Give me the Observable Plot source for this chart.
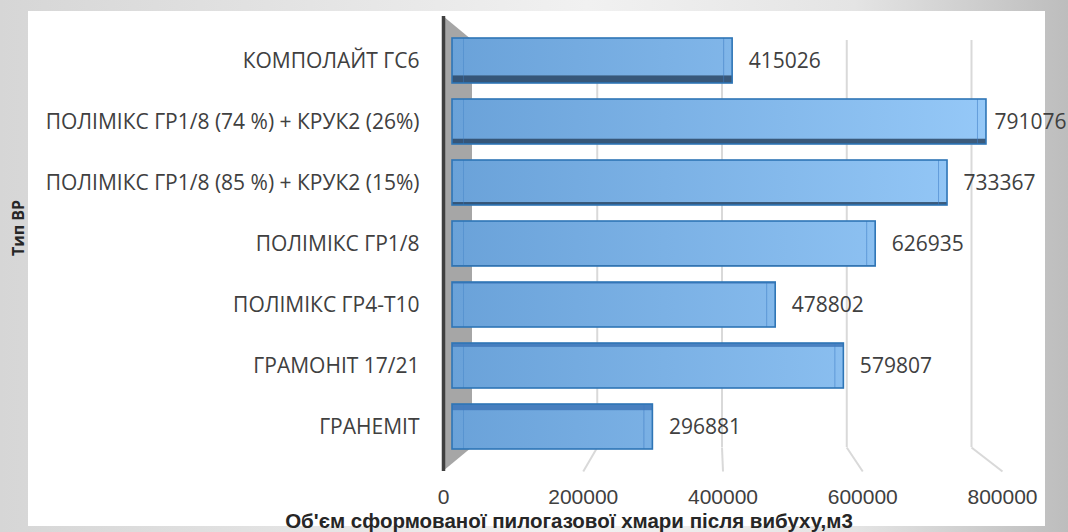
<!DOCTYPE html>
<html><head><meta charset="utf-8">
<script src="https://cdn.jsdelivr.net/npm/d3@7"></script>
<script src="https://cdn.jsdelivr.net/npm/@observablehq/plot@0.6"></script>
<style>
html,body{margin:0;padding:0;background:#fff;}
#chart{position:relative;width:1068px;height:532px;overflow:hidden;
  background:linear-gradient(to right,#d6d6d6 0%,#e2e2e2 25%,#f1f1f1 55%,#e4e4e4 80%,#bdbdbd 100%);
  font-family:"Open Sans",sans-serif;}
#panel{position:absolute;left:28px;top:11px;width:1017px;height:515px;background:#fff;}
.layer{position:absolute;left:0;top:0;width:1068px;height:532px;}
#xtitle{position:absolute;left:269px;width:600px;top:508.5px;text-align:center;font-family:"Liberation Sans",Arial,sans-serif;font-weight:bold;font-size:20.5px;line-height:23px;color:#262626;white-space:nowrap;}
#ytitle{position:absolute;left:18px;top:228px;transform:translate(-50%,-50%) rotate(-90deg);font-weight:bold;font-size:16px;color:#262626;white-space:nowrap;}
</style></head>
<body>
<div id="chart"><div id="panel"></div></div>
<script>
// ---- data ----
const categories = ["КОМПОЛАЙТ ГС6", "ПОЛІМІКС ГР1/8 (74 %) + КРУК2 (26%)", "ПОЛІМІКС ГР1/8 (85 %) + КРУК2 (15%)", "ПОЛІМІКС ГР1/8", "ПОЛІМІКС ГР4-Т10", "ГРАМОНІТ 17/21", "ГРАНЕМІТ"];
const values = [415026, 791076, 733367, 626935, 478802, 579807, 296881];
const xTicks = [0, 200000, 400000, 600000, 800000];
const xTitle = "Об'єм сформованої пилогазової хмари після вибуху,м3";
const yTitle = "Тип ВР";

// ---- layout ----
const W = 1068, H = 532;
const font = '"Open Sans", sans-serif';
const domainX = [0, 800000];
const backRange = [472, 971], frontRange = [443, 1002];
const baseStyle = {background: "transparent", overflow: "visible", fontFamily: font, color: "#404040"};

const rows = categories.map((name, i) => ({name, value: values[i], i}));

const backScale = Plot.scale({x: {domain: domainX, range: backRange}});
const frontScale = Plot.scale({x: {domain: domainX, range: frontRange}});
const toBack = v => backScale.invert(frontScale.apply(v));
const inset = 0.0527;
const f0 = toBack(0);
const wall = [{y: 1, x1: f0, x2: f0}, {y: 1 - inset, x1: f0, x2: 0}, {y: inset, x1: f0, x2: 0}, {y: 0, x1: f0, x2: f0}];

const chart = document.getElementById("chart");
function addLayer(svg) { svg.classList.add("layer"); chart.appendChild(svg); return svg; }

// back wall, gridlines, floor
addLayer(Plot.plot({
  width: W, height: H, margin: 0,
  x: {domain: domainX, range: backRange, axis: null},
  y: {domain: [0, 1], range: [471, 16], axis: null},
  style: baseStyle,
  marks: [
    Plot.areaX(wall, {y: "y", x1: "x1", x2: "x2", fill: "#a6a6a6"}),
    Plot.ruleX(xTicks.slice(1), {x: d => d, y1: inset, y2: 1 - inset, stroke: "#d9d9d9", strokeWidth: 2}),
    Plot.link(xTicks.slice(1), {x1: d => d, y1: inset, x2: d => toBack(d), y2: 0, stroke: "#d9d9d9", strokeWidth: 2}),
    Plot.ruleX([f0], {x: d => d, y1: 0, y2: 1, stroke: "#404040", strokeWidth: 3.5})
  ]
}));

// front axis tick labels
addLayer(Plot.plot({
  width: W, height: H, marginLeft: 0, marginRight: 0, marginTop: 16, marginBottom: 61,
  x: {domain: domainX, range: frontRange, ticks: xTicks, tickFormat: d3.format("d"), tickSize: 0, tickPadding: 17.5, label: null},
  y: {axis: null},
  style: {...baseStyle, fontFamily: '"Liberation Sans", Arial, sans-serif', fontSize: "21px"},
  marks: [Plot.tickX(xTicks, {x: d => d, strokeOpacity: 0})]
}));

// bars
const mT = 21, mB = 66, pad = 0.265;
const yScale = Plot.scale({y: {type: "band", domain: categories, range: [mT, H - mB], padding: pad}});
const bw = yScale.bandwidth;
const depth = i => (i - 3.3) * 2.3;
const faceMarks = rows.map(r => {
  const d = depth(r.i);
  return d < 0
    ? Plot.barX([r], {x: "value", y: "name", insetTop: bw + d, fill: "#2c4866", fillOpacity: 0.85})
    : Plot.barX([r], {x: "value", y: "name", insetBottom: bw - d, fill: "#3f77b9", fillOpacity: 0.85});
});
const longLimit = 760000;
const barSvg = addLayer(Plot.plot({
  width: W, height: H, marginLeft: 452, marginRight: 76, marginTop: mT, marginBottom: mB,
  x: {domain: domainX, axis: null},
  y: {domain: categories, padding: pad, tickSize: 0, tickPadding: 33, label: null},
  style: {...baseStyle, fontSize: "21px"},
  marks: [
    Plot.barX(rows, {x: "value", y: "name", fill: "url(#barGrad)"}),
    ...faceMarks,
    Plot.tickX(rows, {x: 0, y: "name", dx: 11, stroke: "#3d7cc4", strokeOpacity: 0.4}),
    Plot.tickX(rows, {x: "value", y: "name", dx: -9, stroke: "#3d7cc4", strokeOpacity: 0.55}),
    Plot.barX(rows, {x: "value", y: "name", fill: "none", stroke: "#2e75b6", strokeWidth: 1.6}),
    Plot.text(rows.filter(r => r.value <= longLimit), {x: "value", y: "name", text: d => String(d.value), dx: 16, textAnchor: "start", fontSize: 21, fill: "#404040"}),
    Plot.text(rows.filter(r => r.value > longLimit), {x: "value", y: "name", text: d => String(d.value), dx: 8, textAnchor: "start", fontSize: 21, fill: "#404040"})
  ]
}));
d3.select(barSvg).insert("defs", ":first-child").html(
  `<linearGradient id="barGrad" gradientUnits="userSpaceOnUse" x1="452" y1="0" x2="1000" y2="0">
     <stop offset="0" stop-color="#6aa2d9"/><stop offset="1" stop-color="#96c9f8"/>
   </linearGradient>`);

// titles
const xt = document.createElement("div"); xt.id = "xtitle"; xt.textContent = xTitle; chart.appendChild(xt);
const yt = document.createElement("div"); yt.id = "ytitle"; yt.textContent = yTitle; chart.appendChild(yt);
</script>
</body></html>
